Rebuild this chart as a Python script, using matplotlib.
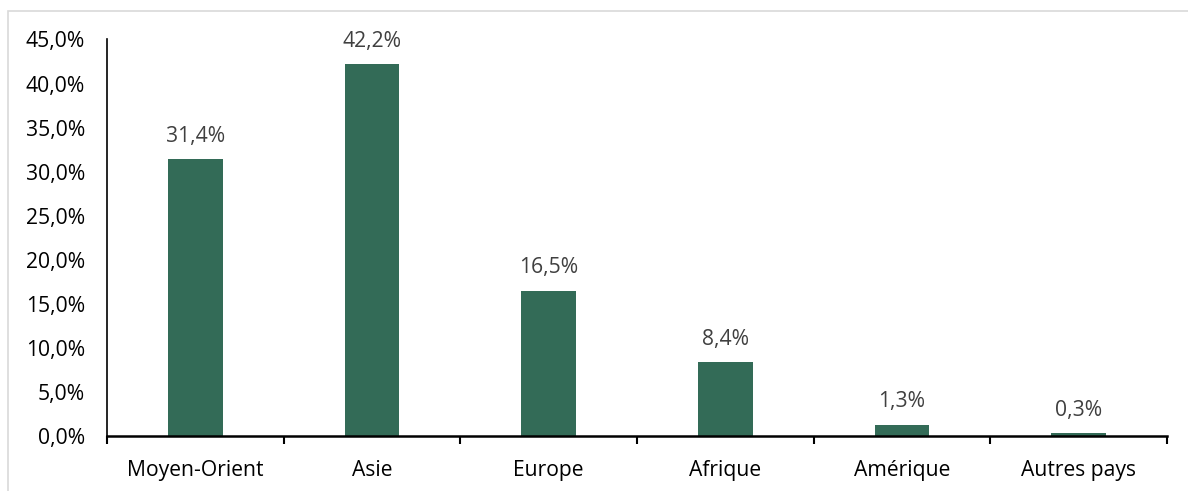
import matplotlib
matplotlib.use("Agg")
import matplotlib.pyplot as plt
from matplotlib.patches import Rectangle

categories = ["Moyen-Orient", "Asie", "Europe", "Afrique", "Amérique", "Autres pays"]
values = [31.4, 42.2, 16.5, 8.4, 1.3, 0.3]
yticks = [0, 5, 10, 15, 20, 25, 30, 35, 40, 45]

plt.rcParams['font.family'] = ['Open Sans', 'DejaVu Sans']
FS = 15.2

W, H = 1188, 491
fig = plt.figure(figsize=(W/100, H/100), dpi=100)
fig.patches.append(Rectangle((8/W, -0.1), 1.2, (H-11)/H + 0.1, transform=fig.transFigure,
                             fill=False, edgecolor='#d9d9d9', linewidth=1.2))

ax = fig.add_axes([107/W, (H-436)/H, (1167-107)/W, (436-39.5)/H])
x = list(range(len(categories)))
bars = ax.bar(x, values, width=0.31, color='#336b57')
ax.set_xlim(-0.5, len(categories) - 0.5)
ax.set_ylim(0, 45)
ax.set_yticks(yticks)
ax.set_yticklabels([f"{v:.1f}%".replace('.', ',') for v in yticks], fontsize=FS, color='#000000')
ax.tick_params(axis='y', length=0, pad=16)
ax.set_xticks(x)
ax.set_xticklabels(categories, fontsize=FS, color='#000000')
ax.tick_params(axis='x', length=0, pad=17)
ax.set_xticks([i - 0.5 for i in range(len(categories) + 1)], minor=True)
ax.tick_params(axis='x', which='minor', length=6, width=1.5, color='black')
for s in ['top', 'right']:
    ax.spines[s].set_visible(False)
ax.spines['left'].set_linewidth(1.2)
ax.spines['bottom'].set_linewidth(1.8)
for xi, v in zip(x, values):
    ax.annotate(f"{v:.1f}%".replace('.', ','), (xi, v), xytext=(0, 12.5), textcoords='offset points',
                ha='center', va='baseline', fontsize=FS, color='#404040')

fig.savefig("out.png", dpi=100)
